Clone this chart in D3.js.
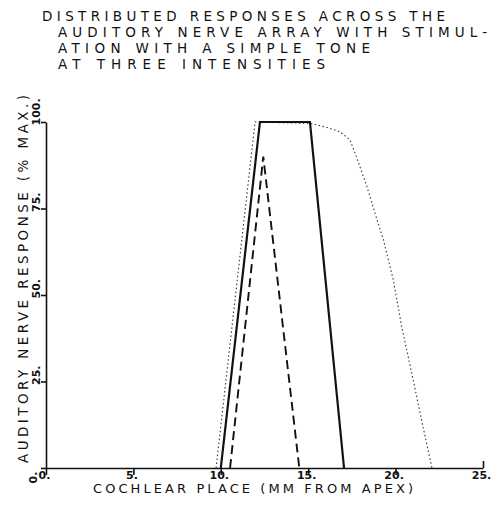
<!DOCTYPE html>
<html>
<head>
<meta charset="UTF-8" />
<script src="https://d3js.org/d3.v7.min.js"></script>
<style>
    body { margin: 0; background: #fff; }
    svg text { font-family: "DejaVu Sans", sans-serif; fill: #111; }
</style>
</head>
<body>
<div id="chart"></div>
<script>
    // data
    const titleLines = [
        "DISTRIBUTED RESPONSES ACROSS THE",
        "AUDITORY NERVE ARRAY WITH STIMUL-",
        "ATION WITH A SIMPLE TONE",
        "AT THREE INTENSITIES"
    ];
    const xTicks = [0, 5, 10, 15, 20, 25];
    const yTicks = [0, 25, 50, 75, 100];

    // low intensity (dashed)
    const lowX = [10.53, 12.43, 14.49];
    const lowY = [0, 90, 0];
    // middle intensity (solid)
    const midX = [10.0, 12.24, 15.1, 17.05];
    const midY = [0, 100, 100, 0];
    // high intensity (dotted)
    const highX = [9.73, 11.96, 15.1, 15.96, 16.82, 17.39, 17.68, 18.0, 18.35, 18.8, 19.3, 19.87, 20.35, 21.01, 21.5, 22.08];
    const highY = [0, 100, 99.6, 98.6, 97.2, 94.8, 91.0, 86.5, 81.5, 74.0, 66.0, 54.3, 40.8, 25.4, 13.5, 0];

    const W = 498, H = 514;
    const svg = d3.select("#chart").append("svg")
        .attr("width", W).attr("height", H);

    const x = d3.scaleLinear().domain([0, 25]).range([46, 483]);
    const y = d3.scaleLinear().domain([0, 100]).range([468, 122]);

    // title
    const titleX = [42, 58, 58, 58];
    const titleLen = [403, 429, 312, 267];
    svg.append("g").selectAll("text")
        .data(titleLines)
        .join("text")
        .attr("x", (d, i) => titleX[i])
        .attr("y", (d, i) => 21 + i * 16)
        .attr("textLength", (d, i) => titleLen[i])
        .attr("lengthAdjust", "spacing")
        .style("font-size", "13.5px")
        .text(d => d);

    // x axis
    const xAxis = svg.append("g")
        .attr("transform", `translate(0,${y(0)})`)
        .call(d3.axisBottom(x).tickValues(xTicks).tickSize(7).tickSizeOuter(0).tickFormat(d => d + "."));
    xAxis.select(".domain").attr("stroke", "#111").attr("stroke-width", 1.6);
    xAxis.selectAll(".tick line").attr("stroke", "#111").attr("stroke-width", 1.6)
        .filter(d => d === 25).attr("y2", -7);
    xAxis.selectAll(".tick text")
        .attr("y", 11).attr("dy", 0).attr("dx", -2)
        .style("font-size", "11px").style("font-weight", "bold")
        .style("font-family", "DejaVu Sans, sans-serif")
        .attr("fill", "#111");

    // y axis
    const yAxis = svg.append("g")
        .attr("transform", `translate(${x(0)},0)`)
        .call(d3.axisLeft(y).tickValues(yTicks).tickSize(5).tickSizeOuter(0).tickFormat(d => d + "."));
    yAxis.select(".domain").attr("stroke", "#111").attr("stroke-width", 1.6);
    yAxis.selectAll(".tick line").attr("stroke", "#111").attr("stroke-width", 1.6);
    yAxis.selectAll(".tick text")
        .attr("transform", "rotate(-90)")
        .attr("text-anchor", "start")
        .attr("x", d => d === 0 ? -15 : -3)
        .attr("y", d => d === 0 ? -9 : -6).attr("dy", 0)
        .style("font-size", "11px").style("font-weight", "bold")
        .style("font-family", "DejaVu Sans, sans-serif")
        .attr("fill", "#111");

    // axis titles
    svg.append("text")
        .attr("x", 93).attr("y", 493)
        .attr("textLength", 320).attr("lengthAdjust", "spacing")
        .style("font-size", "13px")
        .text("COCHLEAR PLACE (MM FROM APEX)");

    svg.append("text")
        .attr("transform", "translate(28,463) rotate(-90)")
        .attr("textLength", 368).attr("lengthAdjust", "spacing")
        .style("font-size", "13.5px")
        .text("AUDITORY NERVE RESPONSE (% MAX.)");

    // curves
    const line = d3.line().x(d => x(d[0])).y(d => y(d[1]));
    const series = [
        { pts: d3.zip(highX, highY), width: 1.1, dash: "1.5,2.5", color: "#333" },
        { pts: d3.zip(midX, midY), width: 2.2, dash: null, color: "#111" },
        { pts: d3.zip(lowX, lowY), width: 1.9, dash: "9,5", color: "#111" }
    ];
    svg.append("g").selectAll("path")
        .data(series)
        .join("path")
        .attr("d", d => line(d.pts))
        .attr("fill", "none")
        .attr("stroke", d => d.color)
        .attr("stroke-width", d => d.width)
        .attr("stroke-dasharray", d => d.dash);
</script>
</body>
</html>
